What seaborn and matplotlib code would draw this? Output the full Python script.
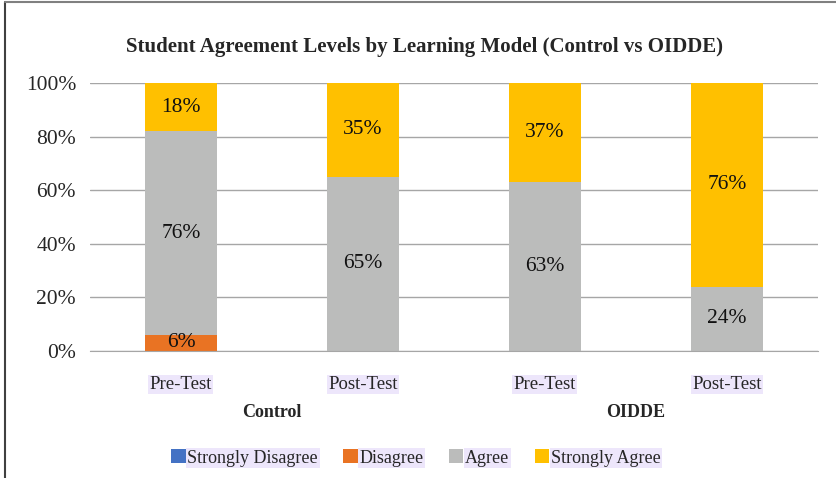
import matplotlib
matplotlib.use("Agg")
import matplotlib.pyplot as plt
from matplotlib.lines import Line2D
from matplotlib.patches import Patch
import seaborn as sns
import numpy as np
import pandas as pd

# data (percent of students)
bar_keys = ["Control Pre", "Control Post", "OIDDE Pre", "OIDDE Post"]
tests = ["Pre-Test", "Post-Test", "Pre-Test", "Post-Test"]
groups = ["Control", "OIDDE"]
levels = ["Strongly Disagree", "Disagree", "Agree", "Strongly Agree"]
strongly_disagree = [0, 0, 0, 0]
disagree = [6, 0, 0, 0]
agree = [76, 65, 63, 24]
strongly_agree = [18, 35, 37, 76]

colors = ["#4472C4", "#E97323", "#BBBCBB", "#FFC000"]
hl = "#EDE6FB"  # lavender highlight behind labels

sns.set_style("white")
plt.rcParams["font.family"] = ["Liberation Serif", "DejaVu Serif"]

fig = plt.figure(figsize=(8.37, 4.78), dpi=100)
ax = fig.add_axes([90 / 837, 1 - 351 / 478, (818 - 90) / 837, (351 - 83) / 478])

series = [strongly_disagree, disagree, agree, strongly_agree]
cum = np.cumsum(np.array(series), axis=0)

# stacked bars: draw running totals from the top level down so each covers the one above
for i in range(len(levels) - 1, -1, -1):
    df = pd.DataFrame({"bar": bar_keys, "total": cum[i]})
    sns.barplot(data=df, x="bar", y="total", color=colors[i], width=0.4,
                saturation=1, edgecolor="none", ax=ax, zorder=2)

# segment labels
for i, vals in enumerate(series):
    for j, v in enumerate(vals):
        if v > 0:
            mid = cum[i][j] - v / 2
            ax.text(j, mid, f"{v}%", ha="center", va="center", fontsize=15.5, color="#111111", zorder=3)

ax.set_ylim(0, 100)
ax.set_xlim(-0.5, 3.5)
ax.set_yticks([0, 20, 40, 60, 80, 100])
ax.set_yticklabels([f"{t}%" for t in range(0, 101, 20)], fontsize=15.5)
ax.yaxis.grid(True, color="#A6A6A6", linewidth=1, zorder=0)
ax.set_axisbelow(True)
ax.tick_params(axis="y", length=0, pad=10)

ax.set_xticks(range(4))
ax.set_xticklabels(tests, fontsize=13.5)
for lab in ax.get_xticklabels():
    lab.set_bbox(dict(facecolor=hl, edgecolor="none", pad=1))
ax.tick_params(axis="x", which="major", length=0, pad=18)
ax.set_xticks([-0.5, 1.5, 3.5], minor=True)
ax.tick_params(axis="x", which="minor", length=5, color="#A6A6A6", width=1)
ax.set_xlabel("")
ax.set_ylabel("")

for s in ["top", "right", "left"]:
    ax.spines[s].set_visible(False)
ax.spines["bottom"].set_color("#A6A6A6")

# group labels under the tick labels
for k, g in enumerate(groups):
    ax.text(2 * k + 0.5, -22.8, g, ha="center", va="center", fontsize=13,
            fontweight="bold", transform=ax.transData)

# title centred on the whole chart box
fig.text(424 / 837, 1 - 47 / 478, "Student Agreement Levels by Learning Model (Control vs OIDDE)",
         ha="center", va="center", fontsize=15, fontweight="bold")

handles = [Patch(facecolor=c, edgecolor="none") for c in colors]
leg = fig.legend(handles, levels, loc="center", bbox_to_anchor=(0.497, 0.042), ncol=4,
                 frameon=False, fontsize=13, handlelength=0.8, handleheight=0.8,
                 handletextpad=0.1, columnspacing=1.4)
for t in leg.get_texts():
    t.set_bbox(dict(facecolor=hl, edgecolor="none", pad=1))

# outer frame (left and top edges of the chart box)
fig.add_artist(Line2D([5.5 / 837, 5.5 / 837], [0, 1 - 1.5 / 478], color="#404040", lw=1.5))
fig.add_artist(Line2D([5.5 / 837, 1], [1 - 1.5 / 478, 1 - 1.5 / 478], color="#808080", lw=1.5))

fig.savefig("out.png", dpi=100)
